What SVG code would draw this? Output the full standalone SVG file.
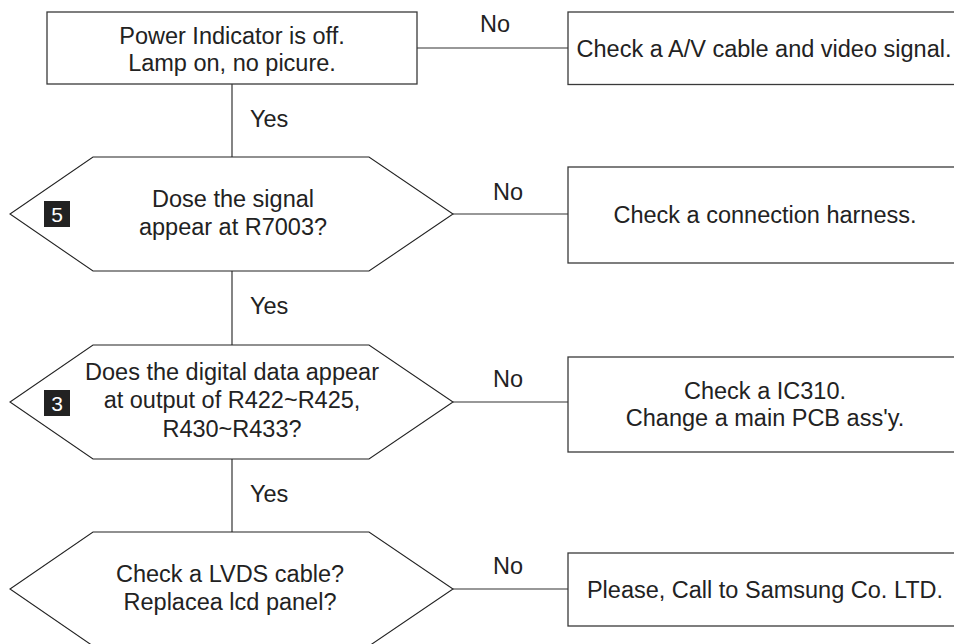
<svg xmlns="http://www.w3.org/2000/svg" width="954" height="644" viewBox="0 0 954 644">
<style>
.box{fill:#fff;stroke:#3a3a3a;stroke-width:1.3}
.dec{fill:#fff;stroke:#222;stroke-width:1.1}
.ln{stroke:#333;stroke-width:1.2;fill:none}
text{font-family:"Liberation Sans",Arial,sans-serif;font-size:23.5px;fill:#222}
.c{text-anchor:middle}
.badge{fill:#222}
.bt{fill:#fff;font-size:21px;text-anchor:middle}
</style>
<rect width="954" height="644" fill="#fff"/>
<g id="connectors">
<line class="ln" x1="232" y1="84" x2="232" y2="157"/>
<line class="ln" x1="232" y1="271" x2="232" y2="345"/>
<line class="ln" x1="232" y1="459" x2="232" y2="532"/>
<line class="ln" x1="417" y1="48" x2="568" y2="48"/>
<line class="ln" x1="453" y1="214" x2="568" y2="214"/>
<line class="ln" x1="453" y1="402" x2="568" y2="402"/>
<line class="ln" x1="453" y1="589" x2="568" y2="589"/>
<text x="480" y="32">No</text>
<text x="493" y="200">No</text>
<text x="493" y="387">No</text>
<text x="493" y="574">No</text>
<text x="250" y="127">Yes</text>
<text x="250" y="314">Yes</text>
<text x="250" y="502">Yes</text>
</g>
<g id="start">
<rect class="box" x="47" y="12" width="370" height="72"/>
<text class="c" x="232" y="44">Power Indicator is off.</text>
<text class="c" x="232" y="71">Lamp on, no picure.</text>
</g>
<g id="r1">
<rect class="box" x="568" y="12" width="400" height="72.5"/>
<text class="c" x="764" y="57">Check a A/V cable and video signal.</text>
</g>
<g id="d1">
<polygon class="dec" points="93,157 369,157 453,214 369,271 93,271 10,214"/>
<rect class="badge" x="44" y="201" width="26" height="26"/>
<text class="bt" x="57" y="222">5</text>
<text class="c" x="233" y="207">Dose the signal</text>
<text class="c" x="233" y="235">appear at R7003?</text>
</g>
<g id="r2">
<rect class="box" x="568" y="167" width="400" height="96"/>
<text class="c" x="765" y="223">Check a connection harness.</text>
</g>
<g id="d2">
<polygon class="dec" points="93,345 369,345 453,402 369,459 93,459 10,402"/>
<rect class="badge" x="44" y="390" width="26" height="26"/>
<text class="bt" x="57" y="411">3</text>
<text class="c" x="232" y="380">Does the digital data appear</text>
<text class="c" x="232" y="408">at output of R422~R425,</text>
<text class="c" x="232" y="437">R430~R433?</text>
</g>
<g id="r3">
<rect class="box" x="568" y="357" width="400" height="95"/>
<text class="c" x="765" y="399">Check a IC310.</text>
<text class="c" x="765" y="426">Change a main PCB ass'y.</text>
</g>
<g id="d3">
<polygon class="dec" points="93,532 369,532 453,589 369,646 93,646 10,589"/>
<text class="c" x="230" y="582">Check a LVDS cable?</text>
<text class="c" x="230" y="610">Replacea lcd panel?</text>
</g>
<g id="r4">
<rect class="box" x="568" y="553" width="400" height="73"/>
<text class="c" x="765" y="598">Please, Call to Samsung Co. LTD.</text>
</g>
</svg>
